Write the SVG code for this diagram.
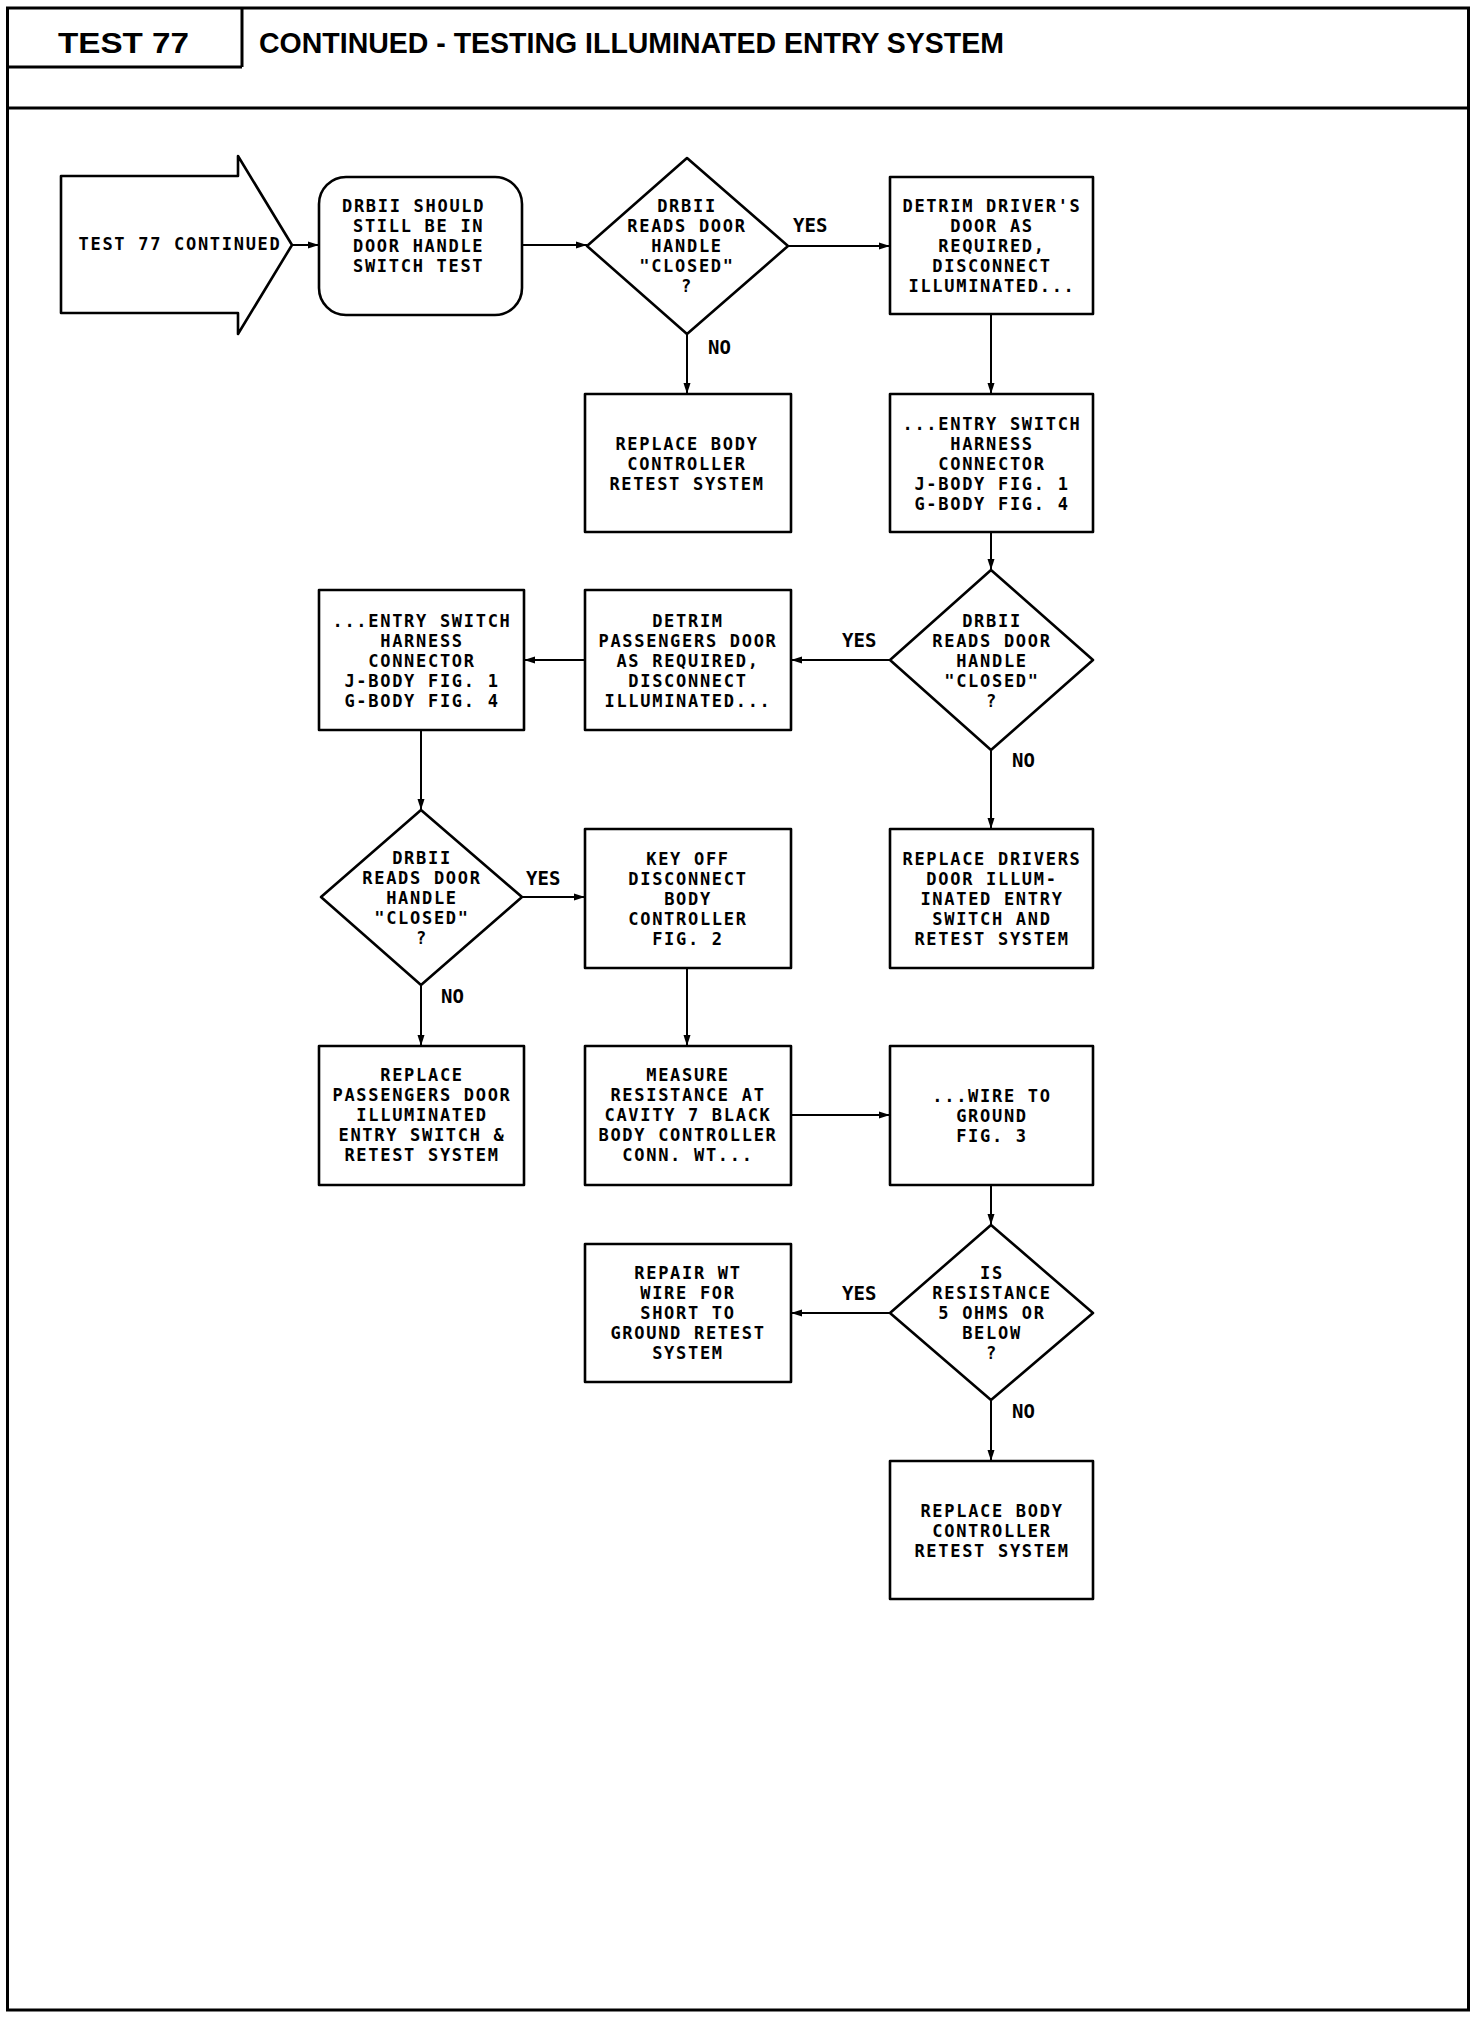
<svg xmlns="http://www.w3.org/2000/svg" width="1472" height="2020" viewBox="0 0 1472 2020">
<defs>
<style>
.frame{fill:none;stroke:#000;stroke-width:3}
.box{fill:#fff;stroke:#000;stroke-width:2.6;stroke-linejoin:round}
.con{fill:none;stroke:#000;stroke-width:2}
.t{font-family:"DejaVu Sans Mono","Liberation Mono",monospace;font-size:17px;font-weight:bold;letter-spacing:1.7px;fill:#000;text-anchor:middle}
.lbl{font-family:"DejaVu Sans Mono","Liberation Mono",monospace;font-size:19px;font-weight:bold;fill:#000}
.hd{font-family:"Liberation Sans",Arial,sans-serif;font-size:29px;font-weight:bold;fill:#000}
</style>
<marker id="ah" markerUnits="userSpaceOnUse" markerWidth="12" markerHeight="8" refX="11" refY="4" orient="auto">
<path d="M0,0.5 L11,4 L0,7.5 z" fill="#000"/>
</marker>
</defs>
<rect width="1472" height="2020" fill="#fff"/>
<g id="frame">
<rect class="frame" x="7.5" y="8" width="1461" height="2002"/>
<line class="frame" x1="242" y1="8" x2="242" y2="67"/>
<line class="frame" x1="7.5" y1="67" x2="242" y2="67"/>
<line class="frame" x1="7.5" y1="108" x2="1468.5" y2="108"/>
<text class="hd" x="58" y="53" textLength="131" lengthAdjust="spacingAndGlyphs">TEST 77</text>
<text class="hd" x="259" y="53" textLength="745" lengthAdjust="spacingAndGlyphs">CONTINUED - TESTING ILLUMINATED ENTRY SYSTEM</text>
</g>
<g id="start">
<polygon class="box" points="61,176 238,176 238,156 292,245 238,334 238,313 61,313"/>
<text class="t" x="180" y="250">TEST 77 CONTINUED</text>
</g>
<g id="n_drbii_should">
<rect class="box" x="319" y="177" width="203" height="138" rx="27" ry="27"/>
<text class="t" x="342" y="212" style="text-anchor:start">DRBII SHOULD</text>
<text class="t" x="353" y="232" style="text-anchor:start">STILL BE IN</text>
<text class="t" x="353" y="252" style="text-anchor:start">DOOR HANDLE</text>
<text class="t" x="353" y="272" style="text-anchor:start">SWITCH TEST</text>
</g>
<g id="d1">
<polygon class="box" points="687,158 788,246 687,334 587,246"/>
<text class="t" x="687" y="212">DRBII</text>
<text class="t" x="687" y="232">READS DOOR</text>
<text class="t" x="687" y="252">HANDLE</text>
<text class="t" x="687" y="272">"CLOSED"</text>
<text class="t" x="687" y="292">?</text>
</g>
<g id="n_detrim_driver">
<rect class="box" x="890" y="177" width="203" height="137"/>
<text class="t" x="992" y="212">DETRIM DRIVER'S</text>
<text class="t" x="992" y="232">DOOR AS</text>
<text class="t" x="992" y="252">REQUIRED,</text>
<text class="t" x="992" y="272">DISCONNECT</text>
<text class="t" x="992" y="292">ILLUMINATED...</text>
</g>
<g id="n_replace_body1">
<rect class="box" x="585" y="394" width="206" height="138"/>
<text class="t" x="687" y="450">REPLACE BODY</text>
<text class="t" x="687" y="470">CONTROLLER</text>
<text class="t" x="687" y="490">RETEST SYSTEM</text>
</g>
<g id="n_entry_right">
<rect class="box" x="890" y="394" width="203" height="138"/>
<text class="t" x="992" y="430">...ENTRY SWITCH</text>
<text class="t" x="992" y="450">HARNESS</text>
<text class="t" x="992" y="470">CONNECTOR</text>
<text class="t" x="992" y="490">J-BODY FIG. 1</text>
<text class="t" x="992" y="510">G-BODY FIG. 4</text>
</g>
<g id="d2">
<polygon class="box" points="991,570 1093,660 991,750 890,660"/>
<text class="t" x="992" y="627">DRBII</text>
<text class="t" x="992" y="647">READS DOOR</text>
<text class="t" x="992" y="667">HANDLE</text>
<text class="t" x="992" y="687">"CLOSED"</text>
<text class="t" x="992" y="707">?</text>
</g>
<g id="n_detrim_pass">
<rect class="box" x="585" y="590" width="206" height="140"/>
<text class="t" x="688" y="627">DETRIM</text>
<text class="t" x="688" y="647">PASSENGERS DOOR</text>
<text class="t" x="688" y="667">AS REQUIRED,</text>
<text class="t" x="688" y="687">DISCONNECT</text>
<text class="t" x="688" y="707">ILLUMINATED...</text>
</g>
<g id="n_entry_left">
<rect class="box" x="319" y="590" width="205" height="140"/>
<text class="t" x="422" y="627">...ENTRY SWITCH</text>
<text class="t" x="422" y="647">HARNESS</text>
<text class="t" x="422" y="667">CONNECTOR</text>
<text class="t" x="422" y="687">J-BODY FIG. 1</text>
<text class="t" x="422" y="707">G-BODY FIG. 4</text>
</g>
<g id="d3">
<polygon class="box" points="421,810 522,897 421,985 321,897"/>
<text class="t" x="422" y="864">DRBII</text>
<text class="t" x="422" y="884">READS DOOR</text>
<text class="t" x="422" y="904">HANDLE</text>
<text class="t" x="422" y="924">"CLOSED"</text>
<text class="t" x="422" y="944">?</text>
</g>
<g id="n_key_off">
<rect class="box" x="585" y="829" width="206" height="139"/>
<text class="t" x="688" y="865">KEY OFF</text>
<text class="t" x="688" y="885">DISCONNECT</text>
<text class="t" x="688" y="905">BODY</text>
<text class="t" x="688" y="925">CONTROLLER</text>
<text class="t" x="688" y="945">FIG. 2</text>
</g>
<g id="n_replace_drivers">
<rect class="box" x="890" y="829" width="203" height="139"/>
<text class="t" x="992" y="865">REPLACE DRIVERS</text>
<text class="t" x="992" y="885">DOOR ILLUM-</text>
<text class="t" x="992" y="905">INATED ENTRY</text>
<text class="t" x="992" y="925">SWITCH AND</text>
<text class="t" x="992" y="945">RETEST SYSTEM</text>
</g>
<g id="n_replace_pass">
<rect class="box" x="319" y="1046" width="205" height="139"/>
<text class="t" x="422" y="1081">REPLACE</text>
<text class="t" x="422" y="1101">PASSENGERS DOOR</text>
<text class="t" x="422" y="1121">ILLUMINATED</text>
<text class="t" x="422" y="1141">ENTRY SWITCH &amp;</text>
<text class="t" x="422" y="1161">RETEST SYSTEM</text>
</g>
<g id="n_measure">
<rect class="box" x="585" y="1046" width="206" height="139"/>
<text class="t" x="688" y="1081">MEASURE</text>
<text class="t" x="688" y="1101">RESISTANCE AT</text>
<text class="t" x="688" y="1121">CAVITY 7 BLACK</text>
<text class="t" x="688" y="1141">BODY CONTROLLER</text>
<text class="t" x="688" y="1161">CONN. WT...</text>
</g>
<g id="n_wire">
<rect class="box" x="890" y="1046" width="203" height="139"/>
<text class="t" x="992" y="1102">...WIRE TO</text>
<text class="t" x="992" y="1122">GROUND</text>
<text class="t" x="992" y="1142">FIG. 3</text>
</g>
<g id="d4">
<polygon class="box" points="991,1225 1093,1313 991,1400 890,1313"/>
<text class="t" x="992" y="1279">IS</text>
<text class="t" x="992" y="1299">RESISTANCE</text>
<text class="t" x="992" y="1319">5 OHMS OR</text>
<text class="t" x="992" y="1339">BELOW</text>
<text class="t" x="992" y="1359">?</text>
</g>
<g id="n_repair">
<rect class="box" x="585" y="1244" width="206" height="138"/>
<text class="t" x="688" y="1279">REPAIR WT</text>
<text class="t" x="688" y="1299">WIRE FOR</text>
<text class="t" x="688" y="1319">SHORT TO</text>
<text class="t" x="688" y="1339">GROUND RETEST</text>
<text class="t" x="688" y="1359">SYSTEM</text>
</g>
<g id="n_replace_body2">
<rect class="box" x="890" y="1461" width="203" height="138"/>
<text class="t" x="992" y="1517">REPLACE BODY</text>
<text class="t" x="992" y="1537">CONTROLLER</text>
<text class="t" x="992" y="1557">RETEST SYSTEM</text>
</g>
<g id="connectors">
<line class="con" x1="293" y1="245" x2="319" y2="245" marker-end="url(#ah)"/>
<line class="con" x1="522" y1="245" x2="587" y2="245" marker-end="url(#ah)"/>
<line class="con" x1="788" y1="246" x2="890" y2="246" marker-end="url(#ah)"/>
<line class="con" x1="687" y1="334" x2="687" y2="394" marker-end="url(#ah)"/>
<line class="con" x1="991" y1="314" x2="991" y2="394" marker-end="url(#ah)"/>
<line class="con" x1="991" y1="532" x2="991" y2="570" marker-end="url(#ah)"/>
<line class="con" x1="890" y1="660" x2="791" y2="660" marker-end="url(#ah)"/>
<line class="con" x1="585" y1="660" x2="524" y2="660" marker-end="url(#ah)"/>
<line class="con" x1="421" y1="730" x2="421" y2="810" marker-end="url(#ah)"/>
<line class="con" x1="522" y1="897" x2="585" y2="897" marker-end="url(#ah)"/>
<line class="con" x1="991" y1="750" x2="991" y2="829" marker-end="url(#ah)"/>
<line class="con" x1="421" y1="985" x2="421" y2="1046" marker-end="url(#ah)"/>
<line class="con" x1="687" y1="968" x2="687" y2="1046" marker-end="url(#ah)"/>
<line class="con" x1="791" y1="1115" x2="890" y2="1115" marker-end="url(#ah)"/>
<line class="con" x1="991" y1="1185" x2="991" y2="1225" marker-end="url(#ah)"/>
<line class="con" x1="890" y1="1313" x2="791" y2="1313" marker-end="url(#ah)"/>
<line class="con" x1="991" y1="1400" x2="991" y2="1461" marker-end="url(#ah)"/>
<text class="lbl" x="793" y="232">YES</text>
<text class="lbl" x="708" y="354">NO</text>
<text class="lbl" x="842" y="647">YES</text>
<text class="lbl" x="1012" y="767">NO</text>
<text class="lbl" x="526" y="885">YES</text>
<text class="lbl" x="441" y="1003">NO</text>
<text class="lbl" x="842" y="1300">YES</text>
<text class="lbl" x="1012" y="1418">NO</text>
</g>
</svg>
